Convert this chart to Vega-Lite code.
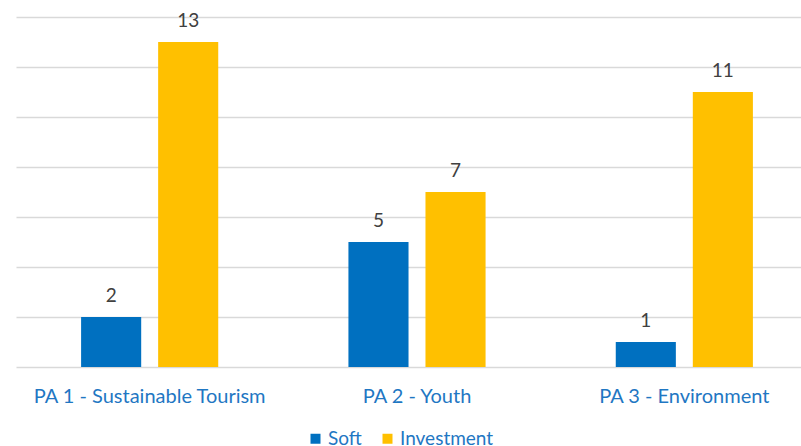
{
  "$schema": "https://vega.github.io/schema/vega-lite/v6.json",
  "width": 802,
  "height": 350,
  "autosize": {"type": "none"},
  "padding": {"left": 16, "top": 17, "right": 0, "bottom": 79},
  "background": "#ffffff",
  "data": {
    "values": [
      {"area": "PA 1 - Sustainable Tourism", "type": "Soft", "count": 2},
      {"area": "PA 1 - Sustainable Tourism", "type": "Investment", "count": 13},
      {"area": "PA 2 - Youth", "type": "Soft", "count": 5},
      {"area": "PA 2 - Youth", "type": "Investment", "count": 7},
      {"area": "PA 3 - Environment", "type": "Soft", "count": 1},
      {"area": "PA 3 - Environment", "type": "Investment", "count": 11}
    ]
  },
  "encoding": {
    "x": {
      "field": "area", "type": "nominal", "sort": null, "title": null,
      "scale": {"paddingInner": 0.487, "paddingOuter": 0.2435},
      "axis": {"labelAngle": 0, "ticks": false, "domain": false, "labelFont": "Lato", "labelFontSize": 20, "labelColor": "#1F77C3", "labelBaseline": "alphabetic", "labelPadding": 35, "labelLimit": 0, "grid": false}
    },
    "xOffset": {"field": "type", "sort": ["Soft", "Investment"], "scale": {"paddingInner": 0.22, "paddingOuter": 0}},
    "y": {
      "field": "count", "type": "quantitative", "title": null,
      "scale": {"domain": [0, 14], "nice": false},
      "axis": {"values": [0, 2, 4, 6, 8, 10, 12, 14], "labels": false, "ticks": false, "domain": false, "grid": true, "gridColor": "#D9D9D9", "gridWidth": 1.3}
    }
  },
  "layer": [
    {
      "mark": {"type": "bar"},
      "encoding": {
        "color": {
          "field": "type", "type": "nominal", "sort": ["Soft", "Investment"],
          "scale": {"domain": ["Soft", "Investment"], "range": ["#0070C0", "#FFC000"]},
          "legend": {"title": null, "orient": "none", "legendX": 290, "legendY": 412, "direction": "horizontal", "symbolType": "square", "symbolSize": 100, "symbolStrokeWidth": 0, "labelFont": "Lato", "labelFontSize": 19, "labelColor": "#1F77C3", "labelOffset": 3, "columnPadding": 16, "labelLimit": 0}
        }
      }
    },
    {
      "mark": {"type": "text", "baseline": "alphabetic", "dy": -15, "font": "Lato", "fontSize": 19, "color": "#404040"},
      "encoding": {"text": {"field": "count", "type": "quantitative"}}
    }
  ],
  "config": {"view": {"stroke": null}}
}
